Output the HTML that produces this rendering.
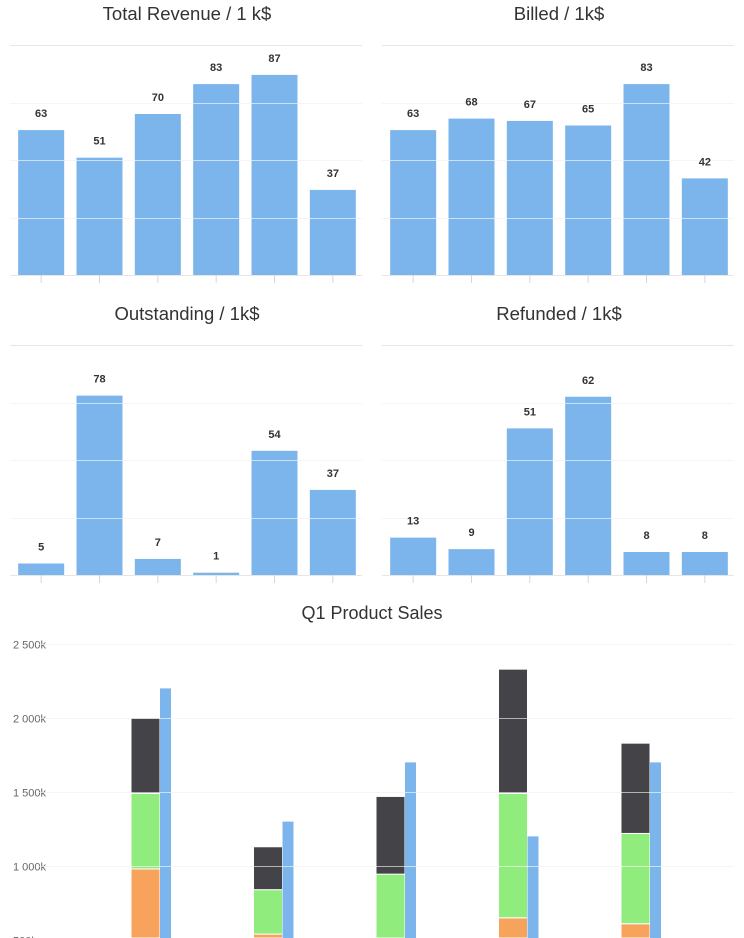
<!DOCTYPE html>
<html><head><meta charset="utf-8">
<style>
html,body{margin:0;padding:0;background:#fff;width:744px;height:938px;overflow:hidden}
svg{display:block;font-family:"Liberation Sans",sans-serif}
</style></head>
<body>
<svg id="c" width="744" height="938" viewBox="0 0 744 938"></svg>
<script>
const smallTitles = ["Total Revenue / 1 k$", "Billed / 1k$", "Outstanding / 1k$", "Refunded / 1k$"];
const revenueValues = [63, 51, 70, 83, 87, 37];
const billedValues = [63, 68, 67, 65, 83, 42];
const outstandingValues = [5, 78, 7, 1, 54, 37];
const refundedValues = [13, 9, 51, 62, 8, 8];
const smallMax = [100, 100, 100, 80];

const q1Title = "Q1 Product Sales";
const q1Ticks = [500, 1000, 1500, 2000, 2500];
const q1TickLabels = ["500k", "1 000k", "1 500k", "2 000k", "2 500k"];
const q1Orange = [980, 540, 400, 650, 610];
const q1Green = [510, 300, 545, 840, 610];
const q1Dark = [510, 290, 525, 840, 610];
const q1Blue = [2200, 1300, 1700, 1200, 1700];

const NS = "http://www.w3.org/2000/svg";
const svg = document.getElementById('c');
function mk(tag, attrs, parent) {
  const e = document.createElementNS(NS, tag);
  for (const k in attrs) e.setAttribute(k, attrs[k]);
  (parent || svg).appendChild(e);
  return e;
}
const FRAME_BOTTOM = 938;

const smallSeries = [revenueValues, billedValues, outstandingValues, refundedValues];
const panels = [
  {x0: 12, x1: 362, top: 45, bottom: 275, ty: 20},
  {x0: 384, x1: 734, top: 45, bottom: 275, ty: 20},
  {x0: 12, x1: 362, top: 345, bottom: 575, ty: 320},
  {x0: 384, x1: 734, top: 345, bottom: 575, ty: 320}
];
panels.forEach((p, pi) => {
  const g = mk('g', {});
  
  
  const t = mk('text', {x: (p.x0 + p.x1) / 2, y: p.ty, 'text-anchor': 'middle', 'font-size': 18.5, fill: '#333'}, g);
  t.textContent = smallTitles[pi];
  
  
  const max = smallMax[pi];
  const yS = v => p.bottom - v / max * (p.bottom - p.top);
  const vals = smallSeries[pi];
  const n = vals.length;
  const cw = (p.x1 - p.x0) / n;
  for (let k = 0; k <= 4; k++) {
    const y = Math.round(yS(max * k / 4)) + 0.5;
    const gl = mk('line', {x1: p.x0 - 2, x2: p.x1, y1: y, y2: y, stroke: '#e6e6e6'}, g);
    
    
  }
  vals.forEach((v, i) => {
    const cx = p.x0 + cw * (i + 0.5);
    const r = mk('rect', {x: cx - 23, y: yS(v), width: 46, height: p.bottom - yS(v), fill: '#7cb5ec'}, g);
    
    
    const tk = mk('line', {x1: cx, x2: cx, y1: p.bottom, y2: p.bottom + 8, stroke: '#ccd6eb'}, g);
    
    
  });
  for (let k = 1; k < 4; k++) {
    const y = Math.round(yS(max * k / 4)) + 0.5;
    const gl = mk('line', {x1: p.x0 - 2, x2: p.x1, y1: y, y2: y, stroke: '#ffffff', 'stroke-opacity': 0.6}, g);
    
    
  }
  vals.forEach((v, i) => {
    const cx = p.x0 + cw * (i + 0.5);
    const lb = mk('text', {x: cx, y: yS(v) - 13, 'text-anchor': 'middle', 'font-size': 11, 'font-weight': 'bold', fill: '#333'}, g);
    lb.textContent = v;
    
    
  });
});

// Q1 chart
const q = mk('g', {});


const qt = mk('text', {x: 372, y: 619, 'text-anchor': 'middle', 'font-size': 18, fill: '#333'}, q);
qt.textContent = q1Title;


const qy = v => 866 - (v - 1000) * (74 / 500);
const gx = i => 151 + i * 122.5;
q1Ticks.forEach((v, i) => {
  const y = Math.round(qy(v)) + 0.5;
  const gl = mk('line', {x1: 37, x2: 734, y1: y, y2: y, stroke: '#e6e6e6'}, q);
  
  
  const tl = mk('text', {x: 13, y: Math.min(y + 4, 945), 'font-size': 11, fill: '#666'}, q);
  tl.textContent = q1TickLabels[i];
  
  
});
const stackCols = ['#f7a35c', '#90ed7d', '#434348'];
const stackData = [q1Orange, q1Green, q1Dark];
function clampRect(yTop, yBot) {
  const b = Math.min(yBot, FRAME_BOTTOM);
  return {y: Math.min(yTop, b), h: Math.max(0, b - yTop)};
}
q1Blue.forEach((b, i) => {
  let base = 0;
  stackData.forEach((arr, si) => {
    const top = base + arr[i];
    const c = clampRect(qy(top), qy(base));
    const r = mk('rect', {x: gx(i) - 20, y: c.y, width: 29, height: c.h, fill: stackCols[si], stroke: '#fff', 'stroke-width': 1}, q);
    
    
    base = top;
  });
  const c = clampRect(qy(b), qy(0));
  const br = mk('rect', {x: gx(i) + 9, y: c.y, width: 11, height: c.h, fill: '#7cb5ec'}, q);
  
  
});
q1Ticks.forEach((v) => {
  const y = Math.round(qy(v)) + 0.5;
  if (y > FRAME_BOTTOM) return;
  const gl = mk('line', {x1: 37, x2: 734, y1: y, y2: y, stroke: '#ffffff', 'stroke-opacity': 0.6}, q);
  
  
});
</script>
</body></html>
